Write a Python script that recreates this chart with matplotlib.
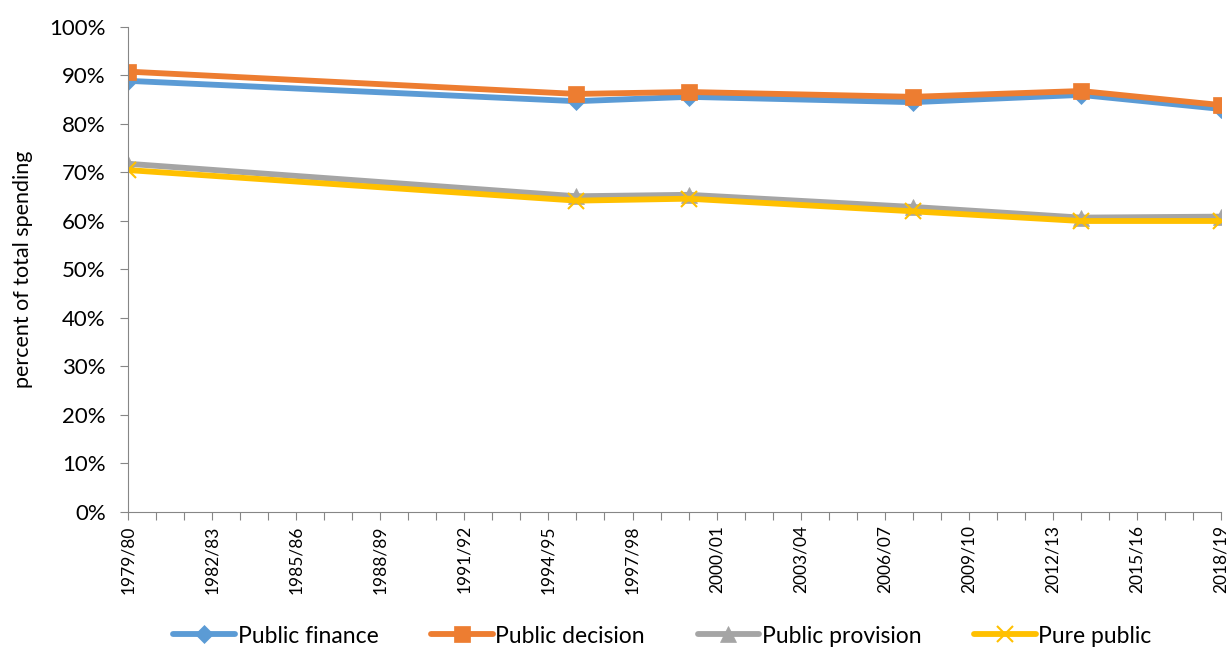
import numpy as np
import matplotlib.pyplot as plt
from matplotlib.ticker import PercentFormatter

plt.rcParams['font.family'] = ['Lato', 'DejaVu Sans']

# financial years on the axis, one tick per year
years = ["%d/%02d" % (y, (y + 1) % 100) for y in range(1979, 2019)]
# years that have survey values
obs_years = ["1979/80", "1995/96", "1999/00", "2007/08", "2013/14", "2018/19"]

public_finance = [88.9, 84.7, 85.6, 84.5, 86.0, 83.1]
public_decision = [90.8, 86.2, 86.6, 85.6, 86.8, 83.9]
public_provision = [71.8, 65.1, 65.4, 62.9, 60.7, 60.9]
pure_public = [70.5, 64.2, 64.6, 62.0, 60.0, 60.0]

series = [
    ("Public finance", public_finance, "#5b9bd5", "D", 9),
    ("Public decision", public_decision, "#ed7d31", "s", 11),
    ("Public provision", public_provision, "#a5a5a5", "^", 11),
    ("Pure public", pure_public, "#ffc000", "x", 11),
]

xs = [years.index(y) for y in obs_years]

fig = plt.figure(figsize=(12.29, 6.49), dpi=100)
ax = fig.add_axes([0.1042, 0.2111, 0.8893, 0.7473])

for name, vals, col, mk, ms in series:
    ax.plot(xs, vals, color=col, lw=4.2, marker=mk, markersize=ms,
            markeredgewidth=1.5 if mk == "x" else 0.5, markeredgecolor=col,
            label=name, solid_capstyle="round")

ax.set_xlim(0, len(years) - 1)
ax.set_ylim(0, 100)
ax.set_yticks(np.arange(0, 101, 10))
ax.yaxis.set_major_formatter(PercentFormatter(decimals=0))
ax.set_xticks(range(len(years)))
ax.set_xticklabels([y if i % 3 == 0 else "" for i, y in enumerate(years)],
                   rotation=90, fontsize=12.5)
ax.tick_params(axis="y", labelsize=16, length=6, pad=10, color="#868686")
ax.tick_params(axis="x", length=6, color="#868686")
ax.set_ylabel("percent of total spending", fontsize=15.5, labelpad=12)

for s in ["top", "right"]:
    ax.spines[s].set_visible(False)
for s in ["left", "bottom"]:
    ax.spines[s].set_color("#868686")

fig.legend(*ax.get_legend_handles_labels(), loc="center",
           bbox_to_anchor=(0.539, 0.02), ncol=4, frameon=False, fontsize=16.5,
           handlelength=2.7, handletextpad=0.1, columnspacing=2.3)

fig.savefig("out.png", dpi=100)
